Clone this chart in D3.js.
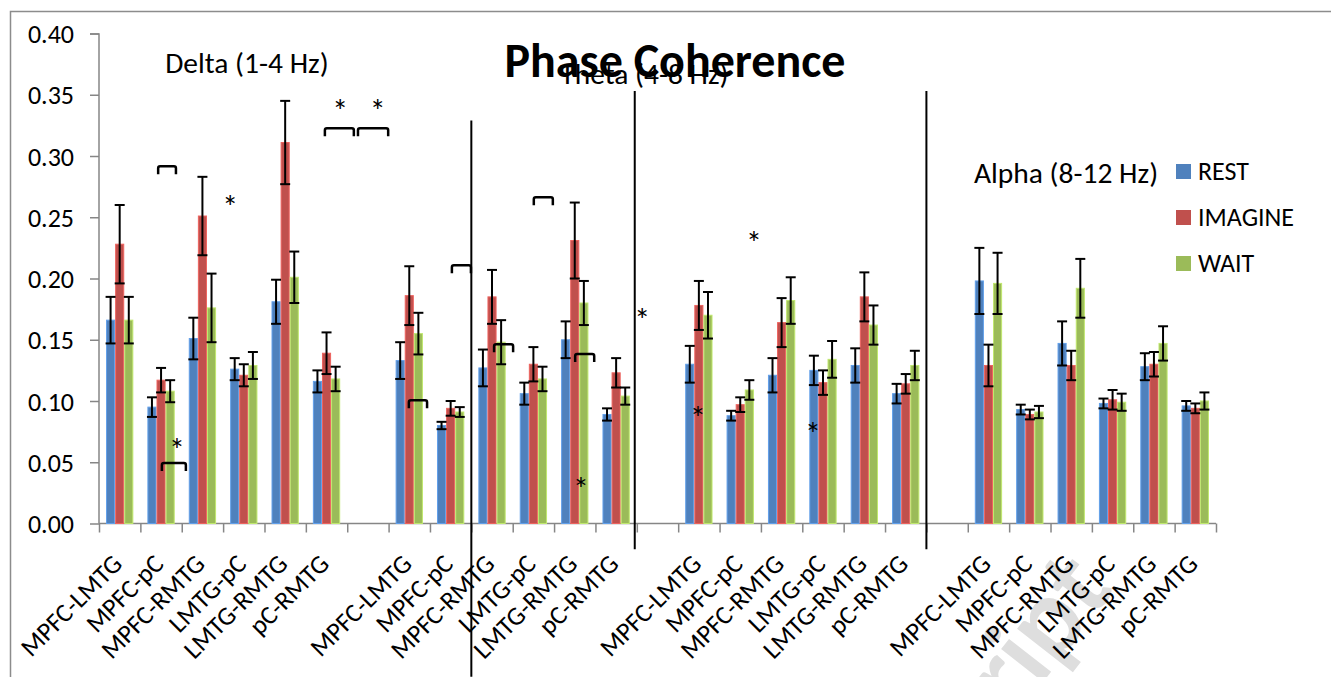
<!DOCTYPE html>
<html>
<head>
<meta charset="utf-8">
<script src="https://cdn.jsdelivr.net/npm/d3@7"></script>
<style>
  body { margin: 0; background: #fff; }
  text { font-family: Carlito, Calibri, Lato, sans-serif; fill: #000; }
</style>
</head>
<body>
<div id="chart"></div>
<script>
// pairs, repeated per band, "" = spacer slot
let pairs = ["MPFC-LMTG", "MPFC-pC", "MPFC-RMTG", "LMTG-pC", "LMTG-RMTG", "pC-RMTG"];
let categories = [].concat(pairs, [""], pairs, [""], pairs, [""], pairs);

let series = ["REST", "IMAGINE", "WAIT"];
let colors = ["#4F81BD", "#C0504D", "#9BBB59"];

let rest    = [0.166, 0.095, 0.151, 0.126, 0.181, 0.116, null, 0.133, 0.080, 0.127, 0.106, 0.150, 0.089, null, 0.130, 0.088, 0.121, 0.125, 0.129, 0.106, null, 0.198, 0.093, 0.147, 0.098, 0.128, 0.096];
let imagine = [0.228, 0.117, 0.251, 0.121, 0.311, 0.139, null, 0.186, 0.094, 0.185, 0.130, 0.231, 0.123, null, 0.178, 0.097, 0.164, 0.115, 0.185, 0.114, null, 0.129, 0.089, 0.129, 0.101, 0.130, 0.094];
let wait    = [0.166, 0.108, 0.176, 0.129, 0.201, 0.118, null, 0.155, 0.091, 0.148, 0.118, 0.180, 0.104, null, 0.170, 0.109, 0.182, 0.134, 0.162, 0.129, null, 0.196, 0.091, 0.192, 0.099, 0.147, 0.100];

let restErr    = [0.019, 0.008, 0.017, 0.009, 0.018, 0.009, null, 0.015, 0.003, 0.015, 0.009, 0.015, 0.005, null, 0.015, 0.004, 0.014, 0.012, 0.014, 0.008, null, 0.027, 0.004, 0.018, 0.004, 0.011, 0.004];
let imagineErr = [0.032, 0.010, 0.032, 0.009, 0.034, 0.017, null, 0.024, 0.006, 0.022, 0.014, 0.031, 0.012, null, 0.020, 0.006, 0.020, 0.010, 0.020, 0.008, null, 0.017, 0.004, 0.012, 0.008, 0.010, 0.004];
let waitErr    = [0.019, 0.009, 0.028, 0.011, 0.021, 0.010, null, 0.017, 0.004, 0.018, 0.010, 0.018, 0.007, null, 0.019, 0.008, 0.019, 0.015, 0.016, 0.012, null, 0.025, 0.005, 0.024, 0.007, 0.014, 0.007];

let yTicks = [0, 0.05, 0.10, 0.15, 0.20, 0.25, 0.30, 0.35, 0.40];

// band labels: [text, category position, value]
let bandLabels = [
  ["Delta (1-4 Hz)", 1.6, 0.368],
  ["Theta (4-8 Hz)", 11.15, 0.359],
  ["Alpha (8-12 Hz)", 21.15, 0.278]
];

// hand-drawn divider lines: [category position, top value, bottom value]
let dividers = [[9.0, 0.329, -0.125], [12.95, 0.353, -0.021], [20.0, 0.353, -0.021]];

// significance brackets: [from, to, value]
let brackets = [
  [1.43, 1.86, 0.2916], [5.46, 6.16, 0.3226], [6.26, 6.99, 0.3226],
  [1.52, 2.10, 0.0494], [7.49, 7.93, 0.1007], [8.53, 8.99, 0.2109],
  [9.55, 10.01, 0.1464], [10.51, 10.97, 0.2663], [11.51, 11.97, 0.1383]
];
// stars: [category position, value]
let stars = [
  [3.17, 0.2622], [5.83, 0.3405], [6.74, 0.3405], [1.885, 0.064],
  [11.65, 0.0322], [13.13, 0.170], [15.83, 0.2329], [14.48, 0.0901], [17.26, 0.0771]
];

let values = [rest, imagine, wait];
let errors = [restErr, imagineErr, waitErr];

let W = 1331, H = 677;
let margin = {left: 99, top: 33.5};

let svg = d3.select("#chart").append("svg")
  .attr("width", W).attr("height", H);

// watermark
svg.append("text")
  .attr("transform", "translate(1115,590) rotate(-52)")
  .attr("text-anchor", "end")
  .style("font-family", "Lato, sans-serif")
  .style("font-weight", "bold")
  .style("font-size", "104px")
  .style("fill", "#dedede")
  .text("Manuscript");

// chart border
svg.append("rect")
  .attr("x", 10.5).attr("y", 11.5)
  .attr("width", W).attr("height", H)
  .attr("fill", "none").attr("stroke", "#8c8c8c").attr("stroke-width", 1.5);

let g = svg.append("g").attr("transform", "translate(" + margin.left + "," + margin.top + ")");

let x = d3.scaleLinear().domain([0, categories.length]).range([0, 1117]);
let bw = x(1) - x(0);
let x1 = d3.scaleBand().domain(series).range([bw * 0.17, bw * 0.83]).padding(0);
let y = d3.scaleLinear().domain([0, 0.40]).range([490, 0]);

// y axis
let yAxis = g.append("g")
  .call(d3.axisLeft(y).tickValues(yTicks).tickSize(9).tickPadding(16).tickFormat(d3.format(".2f")));
yAxis.selectAll("path, line").attr("stroke", "#868686").attr("stroke-width", 1.5);
yAxis.selectAll("text").style("font-size", "26px").attr("dy", "0.35em");
yAxis.select(".domain").attr("d", "M-9,0.5H0V490");

// x axis: ticks on category boundaries
let xAxis = g.append("g").attr("transform", "translate(0,490)")
  .call(d3.axisBottom(x).tickValues(d3.range(categories.length + 1)).tickSize(9).tickFormat(""));
xAxis.selectAll("path, line").attr("stroke", "#868686").attr("stroke-width", 1.5);
xAxis.select(".domain").attr("d", "M0,0H" + x(categories.length));

// rotated category labels
g.selectAll(".xlab").data(categories).join("text")
  .attr("class", "xlab")
  .attr("text-anchor", "end")
  .attr("transform", (d, i) => "translate(" + (x(i + 0.5) + 4) + "," + (490 + 42) + ") rotate(-45)")
  .style("font-size", "26px")
  .text(d => d);

// bars
let rows = [];
categories.forEach((c, i) => {
  series.forEach((s, j) => {
    if (values[j][i] != null) rows.push({i: i, s: s, j: j, v: values[j][i], e: errors[j][i]});
  });
});

g.selectAll(".bar").data(rows).join("rect")
  .attr("class", "bar")
  .attr("x", d => x(d.i) + x1(d.s) + 0.5)
  .attr("width", x1.bandwidth() - 1)
  .attr("y", d => y(d.v))
  .attr("height", d => y(0) - y(d.v))
  .attr("fill", d => colors[d.j])
  .attr("stroke", d => d3.color(colors[d.j]).brighter(0.6))
  .attr("stroke-width", 1);

// error bars
let eb = g.selectAll(".err").data(rows).join("g").attr("class", "err")
  .attr("stroke", "#000").attr("stroke-width", 2);
let cx = d => x(d.i) + x1(d.s) + x1.bandwidth() / 2;
eb.append("line").attr("x1", cx).attr("x2", cx)
  .attr("y1", d => y(d.v + d.e)).attr("y2", d => y(d.v - d.e));
eb.append("line").attr("x1", d => cx(d) - 5).attr("x2", d => cx(d) + 5)
  .attr("y1", d => y(d.v + d.e)).attr("y2", d => y(d.v + d.e));
eb.append("line").attr("x1", d => cx(d) - 5).attr("x2", d => cx(d) + 5)
  .attr("y1", d => y(d.v - d.e)).attr("y2", d => y(d.v - d.e));

// dividers
g.selectAll(".div").data(dividers).join("line")
  .attr("x1", d => x(d[0])).attr("x2", d => x(d[0]))
  .attr("y1", d => y(d[1])).attr("y2", d => y(d[2]))
  .attr("stroke", "#000").attr("stroke-width", 2);

// brackets
g.selectAll(".brk").data(brackets).join("path")
  .attr("d", d => {
    let a = x(d[0]), b = x(d[1]), t = y(d[2]);
    return "M" + a + "," + (t + 8) + "V" + (t + 2) + "Q" + a + "," + t + " " + (a + 2) + "," + t +
      "H" + (b - 2) + "Q" + b + "," + t + " " + b + "," + (t + 2) + "V" + (t + 8);
  })
  .attr("fill", "none").attr("stroke", "#000").attr("stroke-width", 2.5);

// stars
g.selectAll(".star").data(stars).join("text")
  .attr("x", d => x(d[0])).attr("y", d => y(d[1]) + 16)
  .attr("text-anchor", "middle")
  .style("font-size", "32px")
  .text("*");

// band labels
g.selectAll(".band").data(bandLabels).join("text")
  .attr("x", d => x(d[1])).attr("y", d => y(d[2]))
  .style("font-size", "29.5px")
  .text(d => d[0]);

// title
svg.append("text")
  .attr("x", 675).attr("y", 77)
  .attr("text-anchor", "middle")
  .style("font-size", "48px").style("font-weight", "bold")
  .text("Phase Coherence");

// legend
let leg = svg.append("g").attr("transform", "translate(1176,164)");
series.forEach((s, j) => {
  leg.append("rect").attr("x", 0).attr("y", j * 46).attr("width", 15).attr("height", 15).attr("fill", colors[j]);
  leg.append("text").attr("x", 22).attr("y", j * 46 + 16).style("font-size", "26px").text(s);
});
</script>
</body>
</html>
